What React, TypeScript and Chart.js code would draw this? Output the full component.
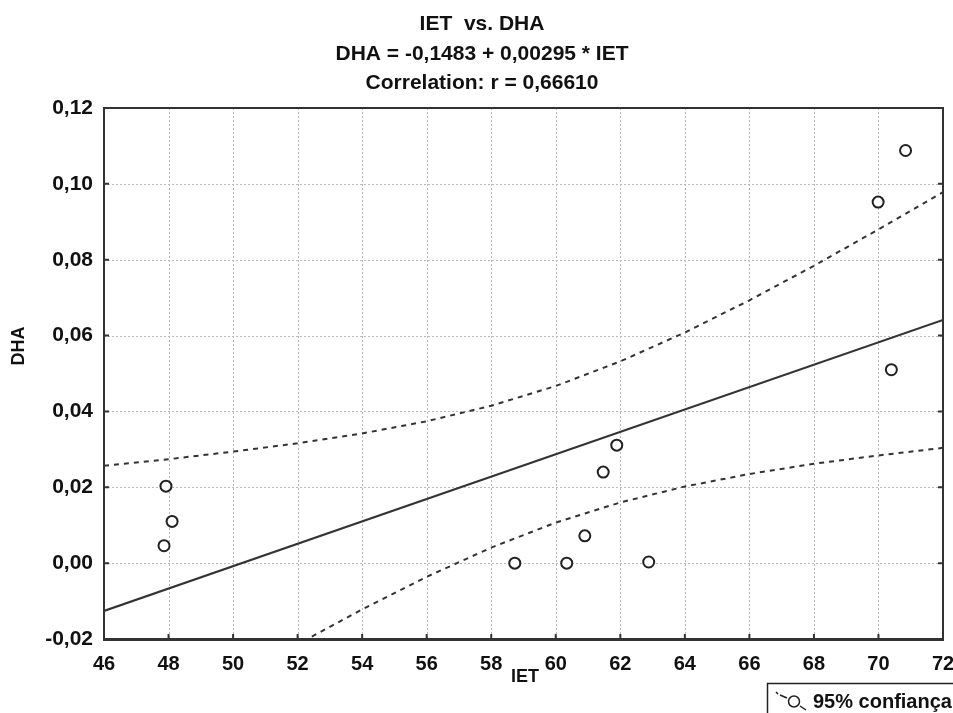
import React, { useEffect, useRef } from 'react';
import { Chart, registerables } from 'chart.js';

Chart.register(...registerables);

const TITLE_LINES = ['IET  vs. DHA', 'DHA = -0,1483 + 0,00295 * IET', 'Correlation: r = 0,66610'];
const X_LABEL = 'IET';
const Y_LABEL = 'DHA';
const LEGEND_TEXT = '95% confiança';

const X_MIN = 46;
const X_MAX = 72;
const X_STEP = 2;
const Y_MIN = -0.02;
const Y_MAX = 0.12;
const Y_STEP = 0.02;

// observed points
const IET = [47.92, 48.11, 47.86, 58.73, 60.34, 60.9, 61.47, 61.89, 62.88, 69.99, 70.4, 70.84];
const DHA = [0.0203, 0.011, 0.0046, 0.0, 0.0, 0.0072, 0.024, 0.0311, 0.0003, 0.0952, 0.051, 0.1088];

// regression line endpoints
const FIT_X = [46, 72];
const FIT_Y = [-0.0126, 0.0641];

// 95% confidence band
const BAND_X = [46, 48, 50, 52, 54, 56, 58, 60, 62, 64, 66, 68, 70, 72];
const BAND_UPPER = [0.0257, 0.0274, 0.0294, 0.0316, 0.0342, 0.0374, 0.0415, 0.0467, 0.0532, 0.0608, 0.0693, 0.0784, 0.088, 0.0978];
const BAND_LOWER = [-0.051, -0.0408, -0.031, -0.0214, -0.0122, -0.0036, 0.0041, 0.0107, 0.016, 0.0202, 0.0235, 0.0262, 0.0284, 0.0304];

const FONT = '"Liberation Sans", Arial, sans-serif';
const TEXT = '#111';

const decor = {
  id: 'decor',
  beforeDatasetsDraw(chart: any) {
    const { ctx, chartArea: a, scales } = chart;
    ctx.save();
    ctx.strokeStyle = '#b8b8b8';
    ctx.lineWidth = 1;
    ctx.setLineDash([2, 2]);
    scales.x.ticks.forEach((t: any) => {
      const px = Math.round(scales.x.getPixelForValue(t.value)) + 0.5;
      if (px <= a.left + 2 || px >= a.right - 2) return;
      ctx.beginPath();
      ctx.moveTo(px, a.top);
      ctx.lineTo(px, a.bottom);
      ctx.stroke();
    });
    scales.y.ticks.forEach((t: any) => {
      const py = Math.round(scales.y.getPixelForValue(t.value)) + 0.5;
      if (py <= a.top + 2 || py >= a.bottom - 2) return;
      ctx.beginPath();
      ctx.moveTo(a.left, py);
      ctx.lineTo(a.right, py);
      ctx.stroke();
    });
    ctx.restore();
  },
  afterDatasetsDraw(chart: any) {
    const { ctx, chartArea: a, scales } = chart;
    ctx.save();
    ctx.setLineDash([]);
    ctx.strokeStyle = '#333';
    ctx.lineWidth = 2;
    scales.x.ticks.forEach((t: any) => {
      const px = scales.x.getPixelForValue(t.value);
      ctx.beginPath();
      ctx.moveTo(px, a.bottom);
      ctx.lineTo(px, a.bottom - 5);
      ctx.stroke();
    });
    scales.y.ticks.forEach((t: any) => {
      const py = scales.y.getPixelForValue(t.value);
      ctx.beginPath();
      ctx.moveTo(a.left, py);
      ctx.lineTo(a.left + 5, py);
      ctx.moveTo(a.right, py);
      ctx.lineTo(a.right - 5, py);
      ctx.stroke();
    });
    ctx.lineWidth = 2;
    ctx.strokeRect(a.left, a.top, a.right - a.left, a.bottom - a.top);
    ctx.lineWidth = 3;
    ctx.beginPath();
    ctx.moveTo(a.left - 1, a.bottom + 0.5);
    ctx.lineTo(a.right + 1, a.bottom + 0.5);
    ctx.stroke();
    ctx.restore();
  },
  afterDraw(chart: any) {
    const { ctx } = chart;
    ctx.save();
    ctx.fillStyle = TEXT;
    ctx.textAlign = 'center';
    ctx.textBaseline = 'alphabetic';
    ctx.font = `bold 21px ${FONT}`;
    const baselines = [30, 59.5, 89];
    TITLE_LINES.forEach((s, i) => ctx.fillText(s, 482, baselines[i]));
    ctx.font = `bold 18px ${FONT}`;
    ctx.textBaseline = 'middle';
    ctx.fillText(X_LABEL, 525, 677);
    ctx.save();
    ctx.translate(19, 346);
    ctx.rotate(-Math.PI / 2);
    ctx.fillText(Y_LABEL, 0, 0);
    ctx.restore();
    // legend box
    ctx.strokeStyle = '#222';
    ctx.lineWidth = 1.5;
    ctx.strokeRect(767.5, 683.5, 200, 40);
    ctx.beginPath();
    ctx.moveTo(776, 692);
    ctx.lineTo(778, 694);
    ctx.moveTo(780, 695);
    ctx.lineTo(787, 698);
    ctx.stroke();
    ctx.beginPath();
    ctx.arc(794, 701.5, 5.5, 0, Math.PI * 2);
    ctx.stroke();
    ctx.beginPath();
    ctx.moveTo(800, 706);
    ctx.lineTo(806, 710);
    ctx.stroke();
    ctx.font = `bold 20px ${FONT}`;
    ctx.textAlign = 'left';
    ctx.textBaseline = 'alphabetic';
    ctx.fillText(LEGEND_TEXT, 813, 708);
    ctx.restore();
  },
};

export default function App() {
  const ref = useRef<HTMLCanvasElement | null>(null);

  useEffect(() => {
    if (!ref.current) return;
    const pts = (xs: number[], ys: number[]) => xs.map((x, i) => ({ x, y: ys[i] }));
    const lineStyle = {
      showLine: true,
      pointRadius: 0,
      pointHoverRadius: 0,
      borderColor: '#333',
      borderWidth: 2,
      fill: false,
      tension: 0,
      clip: 0,
    };
    const chart = new Chart(ref.current, {
      type: 'scatter',
      data: {
        datasets: [
          { ...lineStyle, label: 'fit', data: pts(FIT_X, FIT_Y) },
          { ...lineStyle, label: 'upper', data: pts(BAND_X, BAND_UPPER), borderDash: [5, 5] },
          { ...lineStyle, label: 'lower', data: pts(BAND_X, BAND_LOWER), borderDash: [5, 5] },
          {
            label: 'DHA',
            data: pts(IET, DHA),
            showLine: false,
            pointRadius: 5.5,
            pointBorderWidth: 2,
            pointBorderColor: '#222',
            pointBackgroundColor: '#fff',
            borderColor: '#222',
            backgroundColor: '#fff',
            clip: false,
          } as any,
        ],
      },
      options: {
        responsive: false,
        animation: false,
        layout: { padding: { top: 108, right: 10, left: 0, bottom: 0 } },
        plugins: { legend: { display: false }, tooltip: { enabled: false }, title: { display: false } },
        scales: {
          x: {
            type: 'linear',
            min: X_MIN,
            max: X_MAX,
            grid: { display: false, drawTicks: false },
            border: { display: false },
            afterFit: (s: any) => {
              s.height = 74;
              s.paddingLeft = 0;
              s.paddingRight = 0;
            },
            ticks: {
              stepSize: X_STEP,
              autoSkip: false,
              maxRotation: 0,
              padding: 13,
              color: TEXT,
              font: { family: FONT, size: 20, weight: 'bold' },
            },
          },
          y: {
            type: 'linear',
            min: Y_MIN,
            max: Y_MAX,
            grid: { display: false, drawTicks: false },
            border: { display: false },
            afterFit: (s: any) => {
              s.width = 104;
              s.paddingTop = 0;
              s.paddingBottom = 0;
            },
            ticks: {
              stepSize: Y_STEP,
              padding: 11,
              color: TEXT,
              font: { family: FONT, size: 21, weight: 'bold' },
              callback: (v: any) => {
                const n = Math.abs(Number(v)) < 1e-9 ? 0 : Number(v);
                return n.toFixed(2).replace('.', ',');
              },
            },
          },
        },
      },
      plugins: [decor],
    } as any);
    return () => chart.destroy();
  }, []);

  return (
    <canvas
      ref={ref}
      width={953}
      height={713}
      style={{ position: 'absolute', left: 0, top: 0, width: 953, height: 713, background: '#fff' }}
    />
  );
}
